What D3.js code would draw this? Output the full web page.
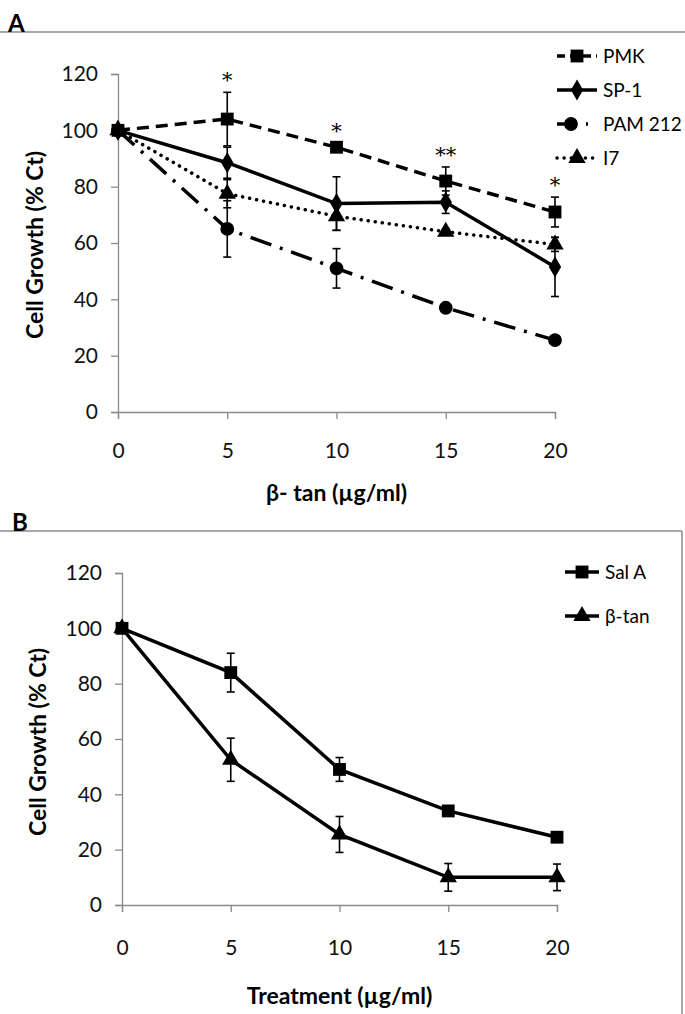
<!DOCTYPE html>
<html>
<head>
<meta charset="utf-8">
<script src="https://cdn.jsdelivr.net/npm/d3@7"></script>
<style>
  body { margin: 0; background: #fff; }
  svg { display: block; font-family: Lato, "Open Sans", sans-serif; }
</style>
</head>
<body>
<div id="chart"></div>
<script>
// data
const doses = [0, 5, 10, 15, 20];
const yTicks = [0, 20, 40, 60, 80, 100, 120];

// panel A
const pmk = [100, 104, 94, 82, 71];
const pmkErr = [0, 9.5, 1.5, 5, 5.3];
const sp1 = [100, 88.5, 74, 74.5, 51.5];
const sp1Err = [0, 5.5, 9.5, 4, 10.5];
const pam212 = [100, 65, 51, 37, 25.5];
const pam212Err = [0, 10, 7, 0.8, 0.8];
const i7 = [100, 77.5, 69.5, 64, 59.5];
const i7Err = [0, 5, 5, 1, 2.5];
const stars = ["", "*", "*", "**", "*"];

// panel B
const salA = [100, 84, 49, 34, 24.5];
const salAErr = [0, 7, 4.3, 1, 1];
const btan = [100, 52.5, 25.5, 10, 10];
const btanErr = [0, 7.8, 6.5, 5, 4.8];

const W = 685, H = 1014;
const svg = d3.select("#chart").append("svg")
  .attr("width", W)
  .attr("height", H);

const symbols = {
  square: d3.symbol().type(d3.symbolSquare).size(165),
  diamond: d3.symbol().type(d3.symbolDiamond).size(130),
  circle: d3.symbol().type(d3.symbolCircle).size(150),
  triangle: d3.symbol().type(d3.symbolTriangle).size(130)
};

const dashes = {
  dashed: "12 7",
  solid: null,
  dashdot: "22 9 3 9",
  dotted: "0.1 7"
};

function drawPanel(cfg) {
  const x = d3.scaleLinear().domain([0, 20]).range([cfg.x0, cfg.x1]);
  const y = d3.scaleLinear().domain([0, 120]).range([cfg.y0, cfg.y1]);
  const g = svg.append("g");

  // frame line + panel letter
  g.append("line")
    .attr("x1", 0).attr("x2", cfg.frameRight)
    .attr("y1", cfg.frameY).attr("y2", cfg.frameY)
    .attr("stroke", "#8a8a8a").attr("stroke-width", 1.5);
  if (cfg.frameSide) {
    g.append("line")
      .attr("x1", cfg.frameRight).attr("x2", cfg.frameRight)
      .attr("y1", cfg.frameY).attr("y2", H)
      .attr("stroke", "#8a8a8a").attr("stroke-width", 1.5);
  }
  g.append("text")
    .attr("x", cfg.letterX).attr("y", cfg.frameY)
    .attr("font-size", 24).attr("font-weight", "bold")
    .text(cfg.letter);

  // axes
  const yAxis = g.append("g")
    .attr("transform", `translate(${cfg.x0},0)`)
    .call(d3.axisLeft(y).tickValues(yTicks).tickSize(7).tickPadding(13));
  const xAxis = g.append("g")
    .attr("transform", `translate(0,${cfg.y0})`)
    .call(d3.axisBottom(x).tickValues(doses).tickSize(7).tickPadding(cfg.xPad));
  [yAxis, xAxis].forEach(a => {
    a.select(".domain").attr("stroke", "#8a8a8a").attr("stroke-width", 1.3);
    a.selectAll(".tick line").attr("stroke", "#8a8a8a").attr("stroke-width", 1.3);
    a.selectAll(".tick text")
      .attr("font-size", 21)
      .attr("font-family", "Lato, 'Open Sans', sans-serif")
      .attr("fill", "#111");
  });

  g.append("text")
    .attr("transform", `translate(${cfg.yTitleX},${cfg.yTitleY}) rotate(-90)`)
    .attr("text-anchor", "middle")
    .attr("font-size", 23).attr("font-weight", "bold")
    .text("Cell Growth (% Ct)");
  g.append("text")
    .attr("x", (cfg.x0 + cfg.x1) / 2).attr("y", cfg.xTitleY)
    .attr("text-anchor", "middle")
    .attr("font-size", 23).attr("font-weight", "bold")
    .text(cfg.xTitle);

  const line = d3.line().x((d, i) => x(doses[i])).y(d => y(d));

  cfg.series.forEach(s => {
    g.append("path")
      .datum(s.values)
      .attr("d", line)
      .attr("fill", "none")
      .attr("stroke", "#000")
      .attr("stroke-width", 3.5)
      .attr("stroke-linecap", s.style === "dotted" ? "round" : "butt")
      .attr("stroke-dasharray", dashes[s.style]);

    // error bars
    const eb = g.append("g");
    s.values.forEach((v, i) => {
      const e = s.err[i];
      if (!e) return;
      const cx = x(doses[i]);
      eb.append("line")
        .attr("x1", cx).attr("x2", cx)
        .attr("y1", y(v - e)).attr("y2", y(v + e))
        .attr("stroke", "#000").attr("stroke-width", 1.6);
      [v - e, v + e].forEach(t => {
        eb.append("line")
          .attr("x1", cx - 4).attr("x2", cx + 4)
          .attr("y1", y(t)).attr("y2", y(t))
          .attr("stroke", "#000").attr("stroke-width", 1.6);
      });
    });

    g.selectAll(null)
      .data(s.values)
      .join("path")
      .attr("transform", (d, i) => `translate(${x(doses[i])},${y(d)})`)
      .attr("d", symbols[s.marker]())
      .attr("fill", "#000");
  });

  // significance marks
  if (cfg.stars) {
    g.selectAll(null)
      .data(cfg.stars.values)
      .join("text")
      .attr("x", (d, i) => x(doses[i]))
      .attr("y", (d, i) => y(cfg.stars.values[i] + cfg.stars.err[i]) - 5)
      .attr("text-anchor", "middle")
      .attr("font-size", 21)
      .attr("font-family", "'DejaVu Serif', serif")
      .text((d, i) => cfg.stars.labels[i]);
  }

  // legend
  const leg = g.append("g");
  cfg.series.forEach((s, i) => {
    const ly = cfg.legY + i * cfg.legStep;
    leg.append("line")
      .attr("x1", cfg.legX).attr("x2", cfg.legX + cfg.legLen)
      .attr("y1", ly).attr("y2", ly)
      .attr("stroke", "#000").attr("stroke-width", 3.5)
      .attr("stroke-linecap", s.style === "dotted" ? "round" : "butt")
      .attr("stroke-dasharray", s.style === "dashed" ? "8 5" : s.style === "dashdot" ? "20 9 2 9" : dashes[s.style]);
    leg.append("path")
      .attr("transform", `translate(${cfg.legX + cfg.legLen / 2 - (s.style === "dashdot" ? 6 : 0)},${ly})`)
      .attr("d", symbols[s.marker]())
      .attr("fill", "#000");
    leg.append("text")
      .attr("x", cfg.legX + cfg.legLen + 6).attr("y", ly)
      .attr("dy", "0.35em")
      .attr("font-size", 19)
      .text(s.name);
  });
}

drawPanel({
  letter: "A", letterX: 8, frameY: 32, frameRight: W, frameSide: false,
  x0: 118, x1: 555, y0: 412, y1: 74, xPad: 24,
  yTitleX: 43, yTitleY: 245, xTitleY: 501, xTitle: "\u03b2- tan (\u00b5g/ml)",
  legX: 557, legLen: 40, legY: 56, legStep: 34,
  series: [
    { name: "PMK", values: pmk, err: pmkErr, marker: "square", style: "dashed" },
    { name: "SP-1", values: sp1, err: sp1Err, marker: "diamond", style: "solid" },
    { name: "PAM 212", values: pam212, err: pam212Err, marker: "circle", style: "dashdot" },
    { name: "I7", values: i7, err: i7Err, marker: "triangle", style: "dotted" }
  ],
  stars: { values: pmk, err: pmkErr, labels: stars }
});

drawPanel({
  letter: "B", letterX: 12, frameY: 531, frameRight: 682, frameSide: true,
  x0: 122, x1: 557, y0: 905, y1: 573, xPad: 28,
  yTitleX: 46, yTitleY: 742, xTitleY: 1004, xTitle: "Treatment (\u00b5g/ml)",
  legX: 565, legLen: 34, legY: 572, legStep: 44,
  series: [
    { name: "Sal A", values: salA, err: salAErr, marker: "square", style: "solid" },
    { name: "\u03b2-tan", values: btan, err: btanErr, marker: "triangle", style: "solid" }
  ]
});
</script>
</body>
</html>
